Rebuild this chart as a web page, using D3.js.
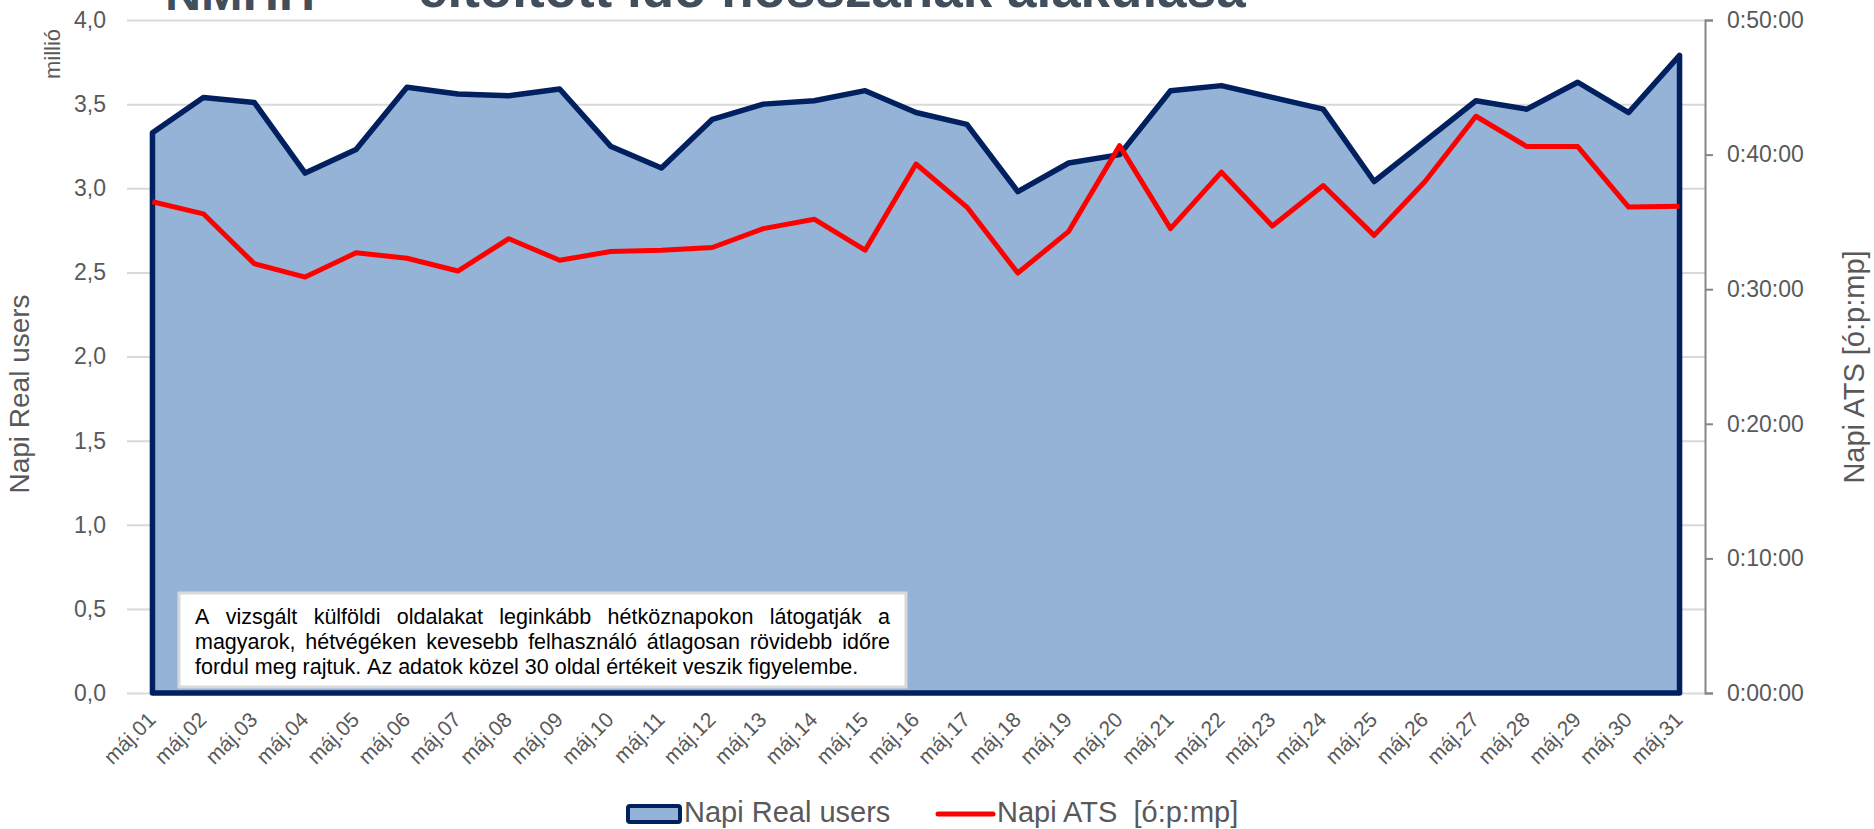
<!DOCTYPE html>
<html>
<head>
<meta charset="utf-8">
<script src="https://cdn.jsdelivr.net/npm/d3@7/dist/d3.min.js"></script>
<style>
  html, body { margin: 0; padding: 0; background: #ffffff; }
  svg { display: block; font-family: "Liberation Sans", Arial, sans-serif; }
</style>
</head>
<body>
<svg id="chart" width="1874" height="829"></svg>
<script>
// ---------------- DATA ----------------
const categories = ["máj.01","máj.02","máj.03","máj.04","máj.05","máj.06","máj.07","máj.08","máj.09","máj.10",
  "máj.11","máj.12","máj.13","máj.14","máj.15","máj.16","máj.17","máj.18","máj.19","máj.20",
  "máj.21","máj.22","máj.23","máj.24","máj.25","máj.26","máj.27","máj.28","máj.29","máj.30","máj.31"];

// Napi Real users (millió)
const realUsers = [3.33, 3.54, 3.51, 3.09, 3.23, 3.60, 3.56, 3.55, 3.59, 3.25,
  3.12, 3.41, 3.50, 3.52, 3.58, 3.45, 3.38, 2.98, 3.15, 3.20,
  3.58, 3.61, 3.54, 3.47, 3.04, 3.28, 3.52, 3.47, 3.63, 3.45, 3.79];

// Napi ATS [ó:p:mp]
const ats = ["0:36:30","0:35:36","0:31:54","0:30:54","0:32:42","0:32:18","0:31:21","0:33:45","0:32:09","0:32:48",
  "0:32:54","0:33:06","0:34:30","0:35:12","0:32:54","0:39:18","0:36:06","0:31:12","0:34:18","0:40:40",
  "0:34:30","0:38:42","0:34:42","0:37:42","0:34:00","0:38:00","0:42:51","0:40:36","0:40:36","0:36:06","0:36:10"];

const leftTicks = [0, 0.5, 1, 1.5, 2, 2.5, 3, 3.5, 4];
const rightTicks = ["0:00:00","0:10:00","0:20:00","0:30:00","0:40:00","0:50:00"];

const titleText = "eltöltött idő hosszának alakulása";
const titleLeftText = "NMHH";
const leftAxisTitle = "Napi Real users";
const leftUnit = "millió";
const rightAxisTitle = "Napi ATS [ó:p:mp]";
const legendLabels = ["Napi Real users", "Napi ATS  [ó:p:mp]"];
const noteLines = [
  "A vizsgált külföldi oldalakat leginkább hétköznapokon látogatják a",
  "magyarok, hétvégéken kevesebb felhasználó átlagosan rövidebb időre",
  "fordul meg rajtuk. Az adatok közel 30 oldal értékeit veszik figyelembe."
];

// ---------------- HELPERS ----------------
const toSec = s => { const p = s.split(":").map(Number); return p[0]*3600 + p[1]*60 + p[2]; };
const fmtTime = sec => { const h = Math.floor(sec/3600), m = Math.floor((sec%3600)/60), s = Math.round(sec%60);
  return h + ":" + String(m).padStart(2,"0") + ":" + String(s).padStart(2,"0"); };

const data = categories.map((c,i) => ({cat: c, users: realUsers[i], ats: toSec(ats[i])}));

// ---------------- LAYOUT ----------------
const plot = {left: 127, right: 1705, top: 20, bottom: 693};
const textGray = "#595959";
const navy = "#002060";
const areaFill = "#95B3D7";
const red = "#FF0000";

const svg = d3.select("#chart");

const x = d3.scalePoint().domain(categories).range([plot.left, plot.right]).padding(0.5);
const yL = d3.scaleLinear().domain([0, 4]).range([plot.bottom, plot.top]);
const yR = d3.scaleLinear().domain([0, toSec("0:50:00")]).range([plot.bottom, plot.top]);

// Title (cropped at the top edge, as in the reference)
svg.append("text").attr("x", 418).attr("y", 7)
  .attr("font-size", 53).attr("font-weight", "bold").attr("fill", "#404F5B")
  .text(titleText);
svg.append("text").attr("x", 165).attr("y", 10)
  .attr("font-size", 46).attr("font-weight", "bold").attr("fill", "#404F5B")
  .attr("textLength", 150).attr("lengthAdjust", "spacingAndGlyphs")
  .text(titleLeftText);

// Left axis with gridlines
const gLeft = svg.append("g").attr("transform", `translate(${plot.left},0)`)
  .call(d3.axisLeft(yL).tickValues(leftTicks).tickSize(-(plot.right - plot.left)).tickPadding(21)
    .tickFormat(d => d3.format(".1f")(d).replace(".", ",")));
gLeft.select(".domain").remove();
gLeft.selectAll(".tick line").attr("stroke", "#D9D9D9").attr("stroke-width", 2);
gLeft.selectAll(".tick text").attr("fill", textGray).attr("font-size", 23)
  .attr("font-family", "Liberation Sans, Arial, sans-serif");

// Area (Napi Real users)
const area = d3.area().x(d => x(d.cat)).y0(yL(0)).y1(d => yL(d.users));
svg.append("path").datum(data).attr("d", area)
  .attr("fill", areaFill).attr("stroke", navy).attr("stroke-width", 5.5).attr("stroke-linejoin", "round");

// Right axis
const gRight = svg.append("g").attr("transform", `translate(${plot.right},0)`)
  .call(d3.axisRight(yR).tickValues(rightTicks.map(toSec)).tickSize(8).tickPadding(14).tickFormat(fmtTime));
gRight.select(".domain").attr("stroke", "#868686").attr("stroke-width", 2);
gRight.selectAll(".tick line").attr("stroke", "#868686").attr("stroke-width", 2);
gRight.selectAll(".tick text").attr("fill", textGray).attr("font-size", 23)
  .attr("font-family", "Liberation Sans, Arial, sans-serif");

// Bottom axis labels
const gBottom = svg.append("g").attr("transform", `translate(0,${plot.bottom})`)
  .call(d3.axisBottom(x).tickSize(0).tickPadding(0));
gBottom.select(".domain").remove();
gBottom.selectAll(".tick text")
  .attr("fill", textGray).attr("font-size", 21).attr("font-family", "Liberation Sans, Arial, sans-serif")
  .attr("text-anchor", "end").attr("dy", 0).attr("y", 0)
  .attr("transform", "translate(4,28) rotate(-45)");

// Note box
const box = {x: 179, y: 593, w: 727, h: 94};
svg.append("rect").attr("x", box.x).attr("y", box.y).attr("width", box.w).attr("height", box.h)
  .attr("fill", "#ffffff").attr("stroke", "#D9D9D9").attr("stroke-width", 3);
const noteG = svg.append("g").attr("font-size", 21.5).attr("fill", "#000000");
const textLeft = 195, textWidth = 695, baselines = [624, 649, 674];
const tmp1 = noteG.append("text").text("a a"), tmp2 = noteG.append("text").text("aa");
const spaceW = tmp1.node().getComputedTextLength() - tmp2.node().getComputedTextLength();
tmp1.remove(); tmp2.remove();
noteLines.forEach((line, li) => {
  const words = line.split(" ");
  const nodes = words.map(w => noteG.append("text").attr("y", baselines[li]).text(w));
  const widths = nodes.map(n => n.node().getComputedTextLength());
  const total = d3.sum(widths);
  const justify = li < noteLines.length - 1;
  const gap = justify ? (textWidth - total) / (words.length - 1) : spaceW;
  let cx = textLeft;
  nodes.forEach((n, i) => { n.attr("x", cx); cx += widths[i] + gap; });
});

// Line (Napi ATS)
const line = d3.line().x(d => x(d.cat)).y(d => yR(d.ats));
svg.append("path").datum(data).attr("d", line)
  .attr("fill", "none").attr("stroke", red).attr("stroke-width", 5).attr("stroke-linejoin", "round");

// Axis titles
svg.append("text").attr("transform", "translate(29,394) rotate(-90)")
  .attr("text-anchor", "middle").attr("font-size", 28).attr("fill", textGray).text(leftAxisTitle);
svg.append("text").attr("transform", "translate(60,54) rotate(-90)")
  .attr("text-anchor", "middle").attr("font-size", 22).attr("fill", textGray).text(leftUnit);
svg.append("text").attr("transform", "translate(1864,367) rotate(-90)")
  .attr("text-anchor", "middle").attr("font-size", 29).attr("fill", textGray).text(rightAxisTitle);

// Legend
const lg = svg.append("g");
lg.append("rect").attr("x", 628).attr("y", 806).attr("width", 52).attr("height", 16).attr("rx", 2)
  .attr("fill", areaFill).attr("stroke", navy).attr("stroke-width", 4);
lg.append("text").attr("x", 684).attr("y", 822).attr("font-size", 29).attr("fill", textGray).text(legendLabels[0]);
lg.append("line").attr("x1", 938).attr("x2", 993).attr("y1", 814).attr("y2", 814)
  .attr("stroke", red).attr("stroke-width", 5).attr("stroke-linecap", "round");
lg.append("text").attr("x", 997).attr("y", 822).attr("font-size", 29).attr("fill", textGray)
  .attr("xml:space", "preserve").style("white-space", "pre").text(legendLabels[1]);
</script>
</body>
</html>
